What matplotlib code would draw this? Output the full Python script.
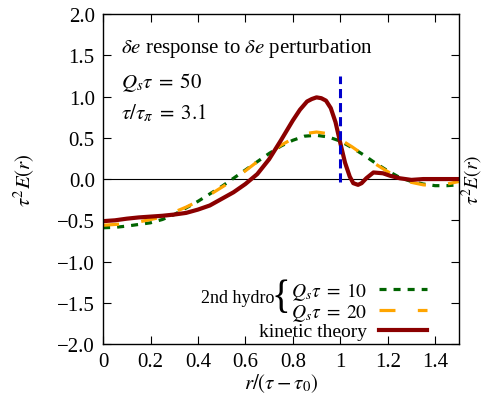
import numpy as np
import matplotlib
matplotlib.use('Agg')
import matplotlib.pyplot as plt

plt.rcParams['font.family'] = ['Liberation Serif', 'DejaVu Serif']
plt.rcParams['mathtext.fontset'] = 'stix'
plt.rcParams['font.size'] = 15

# kinetic theory response
r_kin = [0, 0.05, 0.1, 0.15, 0.2, 0.25, 0.3, 0.35, 0.4, 0.45, 0.5, 0.55, 0.6, 0.65,
         0.7, 0.75, 0.8, 0.83, 0.86, 0.88, 0.9, 0.92, 0.94, 0.96, 0.98, 1.0, 1.02,
         1.04, 1.055, 1.075, 1.09, 1.11, 1.14, 1.18, 1.21, 1.25, 1.3, 1.35, 1.4, 1.45, 1.5]
E_kin = [-0.51, -0.50, -0.48, -0.465, -0.455, -0.445, -0.43, -0.41, -0.37, -0.32,
         -0.24, -0.16, -0.06, 0.06, 0.24, 0.47, 0.71, 0.84, 0.94, 0.97, 0.99, 0.98,
         0.95, 0.86, 0.69, 0.44, 0.20, 0.03, -0.05, -0.07, -0.05, 0.01, 0.08, 0.07,
         0.04, 0.01, -0.01, 0.0, 0.0, 0.0, 0.0]

# 2nd order hydro, Q_s tau = 10 and 20
r_hyd = [0, 0.05, 0.1, 0.15, 0.2, 0.25, 0.3, 0.35, 0.4, 0.45, 0.5, 0.55, 0.6, 0.65,
         0.7, 0.75, 0.8, 0.85, 0.9, 0.95, 1.0, 1.05, 1.1, 1.15, 1.2, 1.25, 1.3,
         1.35, 1.4, 1.45, 1.5]
E_h10 = [-0.59, -0.585, -0.57, -0.55, -0.53, -0.49, -0.43, -0.35, -0.27, -0.18,
         -0.09, 0.01, 0.11, 0.21, 0.31, 0.40, 0.47, 0.52, 0.53, 0.51, 0.46, 0.38,
         0.29, 0.19, 0.10, 0.02, -0.03, -0.06, -0.08, -0.08, -0.07]
E_h20 = [-0.56, -0.55, -0.54, -0.52, -0.49, -0.46, -0.40, -0.34, -0.27, -0.19,
         -0.10, -0.01, 0.10, 0.21, 0.31, 0.41, 0.49, 0.55, 0.57, 0.55, 0.48, 0.39,
         0.29, 0.18, 0.09, 0.01, -0.04, -0.07, -0.08, -0.06, -0.03]

fig = plt.figure(figsize=(4.84, 4.06), dpi=100)
ax = fig.add_axes([0.213, 0.150, 0.735, 0.813])

ax.axhline(0, color='black', lw=0.8)
ax.plot(r_hyd, E_h10, color='#006400', lw=2.3, dashes=(2.2, 2.2), label=r'$Q_s\tau\;=\;10$')
ax.plot(r_hyd, E_h20, color='#FFA500', lw=2.3, dashes=(5, 7), label=r'$Q_s\tau\;=\;20$')
ax.plot(r_kin, E_kin, color='#8B0000', lw=3, label='kinetic theory')
ax.plot([1, 1], [-0.03, 1.25], color='#0000CC', lw=2.2, dashes=(3, 1.6))

ax.set_xlim(0, 1.5)
ax.set_ylim(-2, 2)
ax.set_xticks([0, 0.2, 0.4, 0.6, 0.8, 1.0, 1.2, 1.4])
ax.set_xticklabels(['0', '0.2', '0.4', '0.6', '0.8', '1', '1.2', '1.4'])
ax.set_yticks(np.arange(-2, 2.01, 0.5))
ax.set_yticklabels(['\u22122.0', '\u22121.5', '\u22121.0', '\u22120.5', '0.0', '0.5', '1.0', '1.5', '2.0'])
ax.tick_params(direction='in', top=True, right=True, length=6, width=0.8, pad=6)
for s in ax.spines.values():
    s.set_linewidth(1.0)

ax.set_xlabel(r'$r/(\tau-\tau_0)$', labelpad=0)
ax.set_ylabel(r'$\tau^2 E(r)$', labelpad=14)
ax.text(1.004, 0.5, r'$\tau^2 E(r)$', transform=ax.transAxes, rotation=90,
        va='center', ha='left', fontsize=14)

ax.text(0.05, 0.885, r'$\delta e$ response to $\delta e$ perturbation', transform=ax.transAxes)
ax.text(0.05, 0.78, r'$Q_s\tau\;=\;50$', transform=ax.transAxes)
ax.text(0.05, 0.685, r'$\tau/\tau_\pi\;=\;3.1$', transform=ax.transAxes)

ax.legend(loc='lower right', markerfirst=False, frameon=False, handlelength=2.5,
          handletextpad=0.6, labelspacing=0.0, borderaxespad=0.3, fontsize=14,
          bbox_to_anchor=(0.95, -0.03))
ax.text(0.275, 0.142, '2nd hydro', transform=ax.transAxes, va='center', fontsize=13)
ax.text(0.473, 0.142, '{', transform=ax.transAxes, va='center', fontsize=28)

fig.savefig('out.png', dpi=100)
